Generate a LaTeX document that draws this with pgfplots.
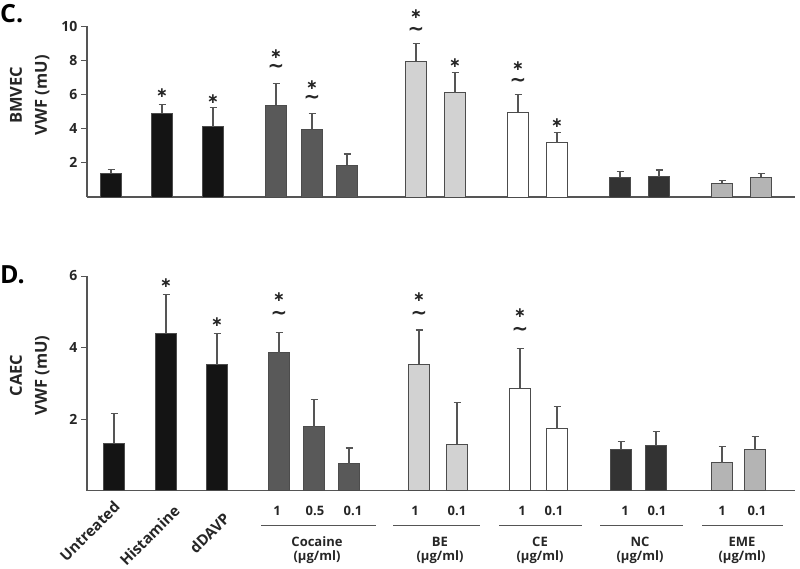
\documentclass[border=0pt]{standalone}
\usepackage{fontspec}
\setmainfont{Open Sans}
\newfontfamily\dvfont{DejaVu Sans}
\usepackage{pgfplots}
\usepackage{pgfplotstable}
\pgfplotsset{compat=1.18}
\definecolor{cblk}{HTML}{141414}
\definecolor{ccoc}{HTML}{595959}
\definecolor{cbe}{HTML}{D2D2D2}
\definecolor{cce}{HTML}{FFFFFF}
\definecolor{cnc}{HTML}{333333}
\definecolor{ceme}{HTML}{B4B4B4}
\definecolor{cline}{HTML}{555555}

% BMVEC (panel C): x = bar centre, y = mean, e = upper error
\pgfplotstableread{
x y e
111 1.40 0.22
162 4.89 0.53
213 4.11 1.11
}\Cblk
\pgfplotstableread{
x y e
276 5.38 1.27
312 3.96 0.93
347 1.87 0.64
}\Ccoc
\pgfplotstableread{
x y e
416 7.95 1.01
455 6.10 1.17
}\Cbe
\pgfplotstableread{
x y e
518 4.95 1.03
557 3.18 0.60
}\Cce
\pgfplotstableread{
x y e
620 1.15 0.33
659 1.19 0.39
}\Cnc
\pgfplotstableread{
x y e
722 0.80 0.15
761 1.15 0.21
}\Ceme

% CAEC (panel D)
\pgfplotstableread{
x y e
114 1.32 0.83
166 4.40 1.08
217 3.52 0.87
}\Dblk
\pgfplotstableread{
x y e
279 3.86 0.57
314 1.79 0.75
349 0.75 0.44
}\Dcoc
\pgfplotstableread{
x y e
419 3.53 0.96
457 1.30 1.17
}\Dbe
\pgfplotstableread{
x y e
520 2.86 1.11
557 1.73 0.61
}\Dce
\pgfplotstableread{
x y e
621 1.16 0.22
656 1.27 0.38
}\Dnc
\pgfplotstableread{
x y e
722 0.78 0.46
755 1.14 0.38
}\Deme

\pgfplotsset{
  panel/.style={
    scale only axis, width=708pt, xmin=87, xmax=795, ymin=0,
    axis x line=bottom, axis y line=left,
    axis line style={-, cline, line width=1.4pt},
    xtick=\empty, tick align=outside,
    ytick style={cline, line width=1pt}, major tick length=6pt,
    /pgf/number format/assume math mode=true,
    yticklabel style={font=\fontsize{14}{16}\selectfont\bfseries, color=black!85},
    ylabel style={font=\fontsize{16.5}{25}\selectfont\bfseries, align=center, anchor=center, color=black!85},
    clip=false,
    ybar, bar width=21, bar shift=0pt,
    every axis plot/.append style={draw=black!70, line width=0.8pt},
  },
  eb/.style={error bars/y dir=plus, error bars/y explicit,
    error bars/error bar style={cline, line width=1.2pt},
    error bars/error mark options={cline, line width=1.2pt, mark size=3.5pt, rotate=90}},
}
\tikzset{
  mystar/.style={font=\dvfont\bfseries\fontsize{14}{14}\selectfont, text=black!85, inner sep=0pt},
  mytil/.style={font=\dvfont\bfseries\fontsize{20}{20}\selectfont, text=black!85, inner sep=0pt},
  mygrp/.style={font=\fontsize{13}{15}\selectfont\bfseries, text=black!85, inner sep=0pt},
  myrot/.style={rotate=45, anchor=east, font=\fontsize{15}{15}\selectfont\bfseries, text=black!85, inner sep=0pt},
}

\begin{document}
\begin{tikzpicture}
\useasboundingbox (0,0) rectangle (800pt,-568pt);

% ---------------- Panel C ----------------
\begin{axis}[panel, at={(87pt,-197pt)}, anchor=south west, height=171pt,
  ymax=10, ytick={2,4,6,8,10},
  ylabel={BMVEC\\VWF (mU)}, ylabel style={at={(axis description cs:-0.081,0.596)}}]
\addplot[fill=cblk, eb] table[x=x, y=y, y error=e] {\Cblk};
\addplot[fill=ccoc, eb] table[x=x, y=y, y error=e] {\Ccoc};
\addplot[fill=cbe, eb] table[x=x, y=y, y error=e] {\Cbe};
\addplot[fill=cce, eb] table[x=x, y=y, y error=e] {\Cce};
\addplot[fill=cnc, eb] table[x=x, y=y, y error=e] {\Cnc};
\addplot[fill=ceme, eb] table[x=x, y=y, y error=e] {\Ceme};
\node[anchor=base west, font=\fontsize{25}{25}\selectfont\bfseries, inner sep=0pt] at (axis description cs:-0.123,1.023) {C.};
\node[mystar] at (axis cs:162,6.07) {∗};
\node[mystar] at (axis cs:213,5.72) {∗};
\node[mystar] at (axis cs:276,8.33) {∗};
\node[mytil] at (axis cs:276,7.50) {∼};
\node[mystar] at (axis cs:312,6.54) {∗};
\node[mytil] at (axis cs:312,5.72) {∼};
\node[mystar] at (axis cs:416,10.68) {∗};
\node[mytil] at (axis cs:416,9.69) {∼};
\node[mystar] at (axis cs:455,7.84) {∗};
\node[mystar] at (axis cs:518,7.66) {∗};
\node[mytil] at (axis cs:518,6.73) {∼};
\node[mystar] at (axis cs:557,4.34) {∗};
\end{axis}

% ---------------- Panel D ----------------
\begin{axis}[panel, at={(87pt,-490.5pt)}, anchor=south west, height=214.5pt,
  ymax=6, ytick={2,4,6},
  ylabel={CAEC\\VWF (mU)}, ylabel style={at={(axis description cs:-0.081,0.536)}}]
\addplot[fill=cblk, eb] table[x=x, y=y, y error=e] {\Dblk};
\addplot[fill=ccoc, eb] table[x=x, y=y, y error=e] {\Dcoc};
\addplot[fill=cbe, eb] table[x=x, y=y, y error=e] {\Dbe};
\addplot[fill=cce, eb] table[x=x, y=y, y error=e] {\Dce};
\addplot[fill=cnc, eb] table[x=x, y=y, y error=e] {\Dnc};
\addplot[fill=ceme, eb] table[x=x, y=y, y error=e] {\Deme};
\node[anchor=base west, font=\fontsize{25}{25}\selectfont\bfseries, inner sep=0pt] at (axis description cs:-0.123,0.967) {D.};
\node[mystar] at (axis cs:166,5.80) {∗};
\node[mystar] at (axis cs:217,4.71) {∗};
\node[mystar] at (axis cs:279,5.40) {∗};
\node[mytil] at (axis cs:279,4.91) {∼};
\node[mystar] at (axis cs:419,5.40) {∗};
\node[mytil] at (axis cs:419,4.91) {∼};
\node[mystar] at (axis cs:520,4.97) {∗};
\node[mytil] at (axis cs:520,4.46) {∼};

% category labels
\node[myrot] at ([yshift=-13.5pt]axis cs:117,0) {Untreated};
\node[myrot] at ([yshift=-17.5pt]axis cs:177,0) {Histamine};
\node[myrot] at ([yshift=-25pt]axis cs:227,0) {dDAVP};

\node[mygrp] at ([yshift=-20.5pt]axis cs:277,0) {1};
\node[mygrp] at ([yshift=-20.5pt]axis cs:315,0) {0.5};
\node[mygrp] at ([yshift=-20.5pt]axis cs:353,0) {0.1};
\node[mygrp] at ([yshift=-20.5pt]axis cs:415,0) {1};
\node[mygrp] at ([yshift=-20.5pt]axis cs:457,0) {0.1};
\node[mygrp] at ([yshift=-20.5pt]axis cs:522,0) {1};
\node[mygrp] at ([yshift=-20.5pt]axis cs:554,0) {0.1};
\node[mygrp] at ([yshift=-20.5pt]axis cs:625,0) {1};
\node[mygrp] at ([yshift=-20.5pt]axis cs:657,0) {0.1};
\node[mygrp] at ([yshift=-20.5pt]axis cs:722,0) {1};
\node[mygrp] at ([yshift=-20.5pt]axis cs:757,0) {0.1};

\draw[cline, line width=0.8pt] ([yshift=-35pt]axis cs:261,0) -- ([yshift=-35pt]axis cs:376,0);
\draw[cline, line width=0.8pt] ([yshift=-35pt]axis cs:393,0) -- ([yshift=-35pt]axis cs:480,0);
\draw[cline, line width=0.8pt] ([yshift=-35pt]axis cs:499,0) -- ([yshift=-35pt]axis cs:582,0);
\draw[cline, line width=0.8pt] ([yshift=-35pt]axis cs:600,0) -- ([yshift=-35pt]axis cs:683,0);
\draw[cline, line width=0.8pt] ([yshift=-35pt]axis cs:702,0) -- ([yshift=-35pt]axis cs:783,0);

\node[mygrp] at ([yshift=-51pt]axis cs:317,0) {Cocaine};
\node[mygrp] at ([yshift=-51pt]axis cs:440,0) {BE};
\node[mygrp] at ([yshift=-51pt]axis cs:540,0) {CE};
\node[mygrp] at ([yshift=-51pt]axis cs:640,0) {NC};
\node[mygrp] at ([yshift=-51pt]axis cs:742,0) {EME};
\node[mygrp] at ([yshift=-67pt]axis cs:317,0) {(µg/ml)};
\node[mygrp] at ([yshift=-67pt]axis cs:440,0) {(µg/ml)};
\node[mygrp] at ([yshift=-67pt]axis cs:540,0) {(µg/ml)};
\node[mygrp] at ([yshift=-67pt]axis cs:640,0) {(µg/ml)};
\node[mygrp] at ([yshift=-67pt]axis cs:742,0) {(µg/ml)};
\end{axis}
\end{tikzpicture}
\end{document}
